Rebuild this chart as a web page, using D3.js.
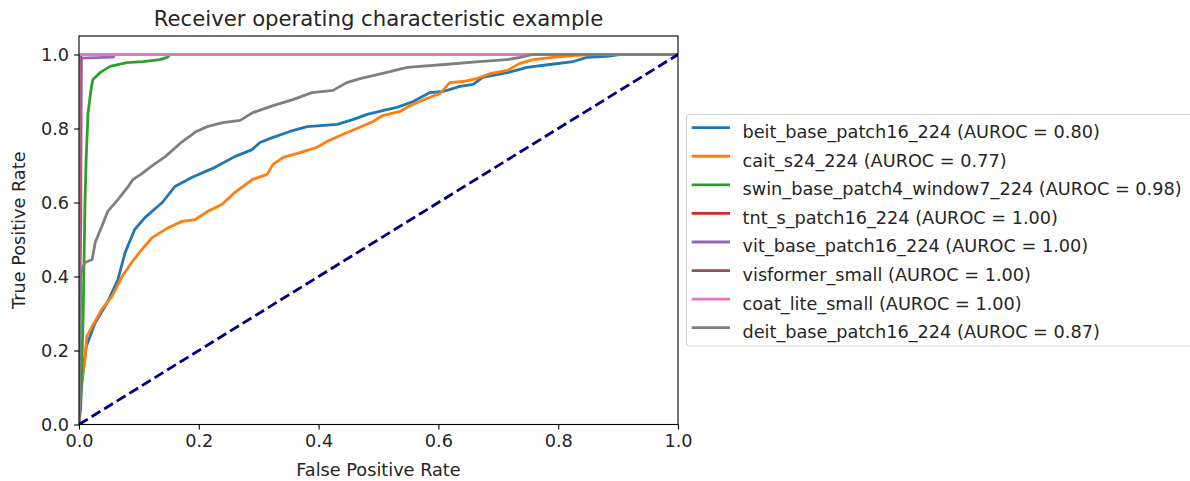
<!DOCTYPE html>
<html>
<head>
<meta charset="utf-8">
<script src="https://cdn.jsdelivr.net/npm/d3@7"></script>
<style>
body { margin: 0; background: #fff; }
text { font-family: "DejaVu Sans", sans-serif; fill: #262626; }
.tick-label { font-size: 17.7px; }
.axis-label { font-size: 17.7px; }
.legend-label { font-size: 17.7px; }
.title { font-size: 21.2px; }
</style>
</head>
<body>
<script>
var width = 1190;
var height = 481;

// model names, AUROC scores and the tab10 colours matplotlib gave them
var modelNames = ["beit_base_patch16_224", "cait_s24_224", "swin_base_patch4_window7_224",
	"tnt_s_patch16_224", "vit_base_patch16_224", "visformer_small", "coat_lite_small", "deit_base_patch16_224"];
var aurocs = [0.80, 0.77, 0.98, 1.00, 1.00, 1.00, 1.00, 0.87];
var colors = ["#1f77b4", "#ff7f0e", "#2ca02c", "#d62728", "#9467bd", "#8c564b", "#e377c2", "#7f7f7f"];

// roc points (fpr, tpr)
var fprBeit = [0, 0.004, 0.012, 0.027, 0.048, 0.065, 0.077, 0.093, 0.110, 0.139, 0.160, 0.189, 0.227, 0.260, 0.289, 0.302, 0.324, 0.352, 0.381, 0.431, 0.457, 0.481, 0.514, 0.531, 0.558, 0.586, 0.608, 0.636, 0.658, 0.674, 0.715, 0.748, 0.786, 0.825, 0.848, 0.881, 0.903, 1];
var tprBeit = [0, 0.10, 0.21, 0.275, 0.332, 0.392, 0.465, 0.527, 0.559, 0.60, 0.643, 0.668, 0.695, 0.724, 0.743, 0.762, 0.776, 0.792, 0.805, 0.811, 0.824, 0.838, 0.851, 0.857, 0.873, 0.897, 0.90, 0.914, 0.919, 0.938, 0.951, 0.965, 0.973, 0.981, 0.992, 0.995, 1, 1];

var fprCait = [0, 0.003, 0.01, 0.013, 0.022, 0.038, 0.055, 0.072, 0.088, 0.105, 0.122, 0.149, 0.172, 0.194, 0.215, 0.239, 0.260, 0.289, 0.314, 0.324, 0.341, 0.369, 0.397, 0.414, 0.436, 0.464, 0.491, 0.507, 0.536, 0.553, 0.581, 0.603, 0.619, 0.641, 0.664, 0.688, 0.715, 0.736, 0.758, 0.791, 0.825, 0.858, 1];
var tprCait = [0, 0.10, 0.176, 0.238, 0.265, 0.311, 0.346, 0.40, 0.438, 0.473, 0.505, 0.532, 0.549, 0.554, 0.576, 0.595, 0.627, 0.662, 0.676, 0.703, 0.722, 0.735, 0.749, 0.765, 0.781, 0.80, 0.819, 0.835, 0.846, 0.862, 0.881, 0.895, 0.924, 0.927, 0.935, 0.949, 0.957, 0.976, 0.986, 0.992, 0.997, 1, 1];

var fprSwin = [0, 0.003, 0.007, 0.010, 0.012, 0.015, 0.020, 0.023, 0.035, 0.052, 0.080, 0.107, 0.135, 0.147, 0.152, 1];
var tprSwin = [0, 0.05, 0.30, 0.60, 0.72, 0.84, 0.905, 0.932, 0.951, 0.968, 0.978, 0.981, 0.986, 0.992, 1, 1];

var fprTnt = [0, 0, 0.003, 0.003, 1];
var tprTnt = [0, 0.30, 0.55, 1, 1];

var fprVit = [0, 0.002, 0.004, 0.057, 0.060, 1];
var tprVit = [0, 0.50, 0.99, 0.993, 1, 1];

var fprVisformer = [0, 0.002, 0.002, 1];
var tprVisformer = [0, 0.995, 1, 1];

var fprCoat = [0, 0, 1];
var tprCoat = [0, 1, 1];

var fprDeit = [0, 0.003, 0.005, 0.010, 0.022, 0.027, 0.038, 0.048, 0.065, 0.082, 0.090, 0.105, 0.120, 0.144, 0.172, 0.196, 0.214, 0.240, 0.269, 0.290, 0.324, 0.357, 0.389, 0.424, 0.447, 0.469, 0.507, 0.548, 0.610, 0.668, 0.714, 0.736, 0.758, 1];
var tprDeit = [0, 0.40, 0.42, 0.438, 0.446, 0.492, 0.535, 0.576, 0.608, 0.643, 0.662, 0.678, 0.697, 0.724, 0.764, 0.792, 0.805, 0.816, 0.822, 0.843, 0.862, 0.878, 0.897, 0.903, 0.924, 0.935, 0.949, 0.965, 0.973, 0.981, 0.986, 0.992, 1, 1];

var fprs = [fprBeit, fprCait, fprSwin, fprTnt, fprVit, fprVisformer, fprCoat, fprDeit];
var tprs = [tprBeit, tprCait, tprSwin, tprTnt, tprVit, tprVisformer, tprCoat, tprDeit];

var xTicks = [0, 0.2, 0.4, 0.6, 0.8, 1.0];
var yTicks = [0, 0.2, 0.4, 0.6, 0.8, 1.0];

var plotLeft = 79, plotRight = 678, plotBottom = 424.5, plotTop = 36;

var canvas = d3.select("body")
				.append("svg")
				.attr("width", width)
				.attr("height", height);

var x = d3.scaleLinear().domain([0, 1]).range([plotLeft, plotRight]);
var y = d3.scaleLinear().domain([0, 1.05]).range([plotBottom, plotTop]);

canvas.append("clipPath")
		.attr("id", "plot-clip")
	.append("rect")
		.attr("x", plotLeft)
		.attr("y", plotTop)
		.attr("width", plotRight - plotLeft)
		.attr("height", plotBottom - plotTop);

var line = d3.line()
		.x(function(d){ return x(d[0]); })
		.y(function(d){ return y(d[1]); });

var curves = canvas.append("g").attr("clip-path", "url(#plot-clip)");

for (i = 0; i < modelNames.length; i++){
	var pts = fprs[i].map(function(f, j){ return [f, tprs[i][j]]; });
	curves.append("path")
			.attr("d", line(pts))
			.attr("fill", "none")
			.attr("stroke", colors[i])
			.attr("stroke-width", 2.8)
			.attr("stroke-linejoin", "round");
}

// chance line
curves.append("path")
		.attr("d", line([[0, 0], [1, 1]]))
		.attr("fill", "none")
		.attr("stroke", "navy")
		.attr("stroke-width", 2.8)
		.attr("stroke-dasharray", "10.3,4.5");

// axes with matplotlib-like ticks
var xAxis = d3.axisBottom(x).tickValues(xTicks).tickFormat(d3.format(".1f")).tickSize(4.9).tickPadding(5);
var yAxis = d3.axisLeft(y).tickValues(yTicks).tickFormat(d3.format(".1f")).tickSize(4.9).tickPadding(5);

var gx = canvas.append("g")
		.attr("transform", "translate(0," + plotBottom + ")")
		.call(xAxis);
var gy = canvas.append("g")
		.attr("transform", "translate(" + plotLeft + ",0)")
		.call(yAxis);

[gx, gy].forEach(function(g){
	g.select(".domain").remove();
	g.selectAll(".tick line").attr("stroke", "#000").attr("stroke-width", 1.1);
	g.selectAll(".tick text")
		.attr("class", "tick-label")
		.attr("font-family", null)
		.attr("font-size", null)
		.style("fill", "#262626");
});
gx.selectAll(".tick text").attr("dy", "0.71em");

canvas.append("rect")
		.attr("x", plotLeft)
		.attr("y", plotTop)
		.attr("width", plotRight - plotLeft)
		.attr("height", plotBottom - plotTop)
		.attr("fill", "none")
		.attr("stroke", "#000")
		.attr("stroke-width", 1.1);

canvas.append("text")
		.classed("title", true)
		.attr("x", (plotLeft + plotRight) / 2)
		.attr("y", 25.5)
		.attr("text-anchor", "middle")
		.text("Receiver operating characteristic example");

canvas.append("text")
		.classed("axis-label", true)
		.attr("x", (plotLeft + plotRight) / 2)
		.attr("y", 476)
		.attr("text-anchor", "middle")
		.text("False Positive Rate");

canvas.append("text")
		.classed("axis-label", true)
		.attr("transform", "translate(25," + (plotTop + plotBottom) / 2 + ") rotate(-90)")
		.attr("text-anchor", "middle")
		.text("True Positive Rate");

// legend, running past the right edge like the original
anchorX = 686.5;
anchorY = 114.5;
rowSpacing = 28.57;

canvas.append("rect")
		.attr("x", anchorX)
		.attr("y", anchorY)
		.attr("width", 520)
		.attr("height", 231.5)
		.attr("rx", 3)
		.attr("fill", "#fff")
		.attr("fill-opacity", 0.8)
		.attr("stroke", "#d5d5d5")
		.attr("stroke-width", 1.1);

var rows = canvas.selectAll(".legend-row")
		.data(modelNames)
		.enter()
		.append("g")
			.attr("transform", function(d, i){
				return "translate(0," + (127.7 + i * rowSpacing) + ")";
			});

rows.append("line")
		.attr("x1", 691.7)
		.attr("x2", 730)
		.attr("stroke", function(d, i){ return colors[i]; })
		.attr("stroke-width", 2.8);

rows.append("text")
		.classed("legend-label", true)
		.attr("x", 742.5)
		.attr("y", 10.5)
		.text(function(d, i){ return d + " (AUROC = " + aurocs[i].toFixed(2) + ")"; });
</script>
</body>
</html>
